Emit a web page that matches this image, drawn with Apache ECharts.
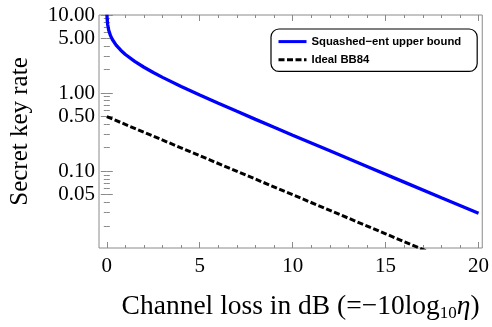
<!DOCTYPE html>
<html>
<head>
<meta charset="utf-8">
<script src="https://cdn.jsdelivr.net/npm/echarts@6/dist/echarts.min.js"></script>
<style>
  html, body { margin: 0; padding: 0; background: #fff; }
  #chart { width: 492px; height: 327px; }
</style>
</head>
<body>
<div id="chart"></div>
<script>
// loss in dB and the squashed-entanglement bound
const lossDb = [0.008, 0.02, 0.05, 0.1, 0.2, 0.3, 0.5, 0.75, 1, 1.5, 2, 2.5, 3, 4, 5, 6, 7, 8, 9, 10, 12, 14, 16, 18, 20];
const squashedRate = [10.08, 8.76, 7.44, 6.44, 5.44, 4.86, 4.12, 3.54, 3.125, 2.548, 2.144, 1.836, 1.59, 1.216, 0.945, 0.741, 0.584, 0.4612, 0.3652, 0.2895, 0.1823, 0.1149, 0.0725, 0.0457, 0.0289];

// ideal BB84 (straight line on the log plot)
const bbLossDb = [0, 5, 10, 15, 17.2];
const bbRate = [0.5, 0.158, 0.05, 0.0158, 0.0095];

const xMajor = [0, 5, 10, 15, 20];
const xMinor = [1, 2, 3, 4, 6, 7, 8, 9, 11, 12, 13, 14, 16, 17, 18, 19];
const yMajor = [0.05, 0.1, 0.5, 1, 5, 10];
const yMinor = [0.02, 0.03, 0.04, 0.06, 0.07, 0.08, 0.09, 0.2, 0.3, 0.4, 0.6, 0.7, 0.8, 0.9, 2, 3, 4, 6, 7, 8, 9];

const frameGrey = '#8a8a8a';
const serif = 'Liberation Serif';

const toPairs = (xs, ys) => xs.map((x, i) => [x, ys[i]]);

const xAx = (pos, ticks, len, labels) => ({
  type: 'value', position: pos, min: -0.42, max: 20.2,
  axisLine: { show: false },
  splitLine: { show: false },
  axisTick: { show: true, inside: true, length: len, customValues: ticks, lineStyle: { color: frameGrey } },
  axisLabel: labels
    ? { show: true, customValues: ticks, margin: 8, fontFamily: serif, fontSize: 21, color: '#000' }
    : { show: false }
});

const yAx = (pos, ticks, len, labels) => ({
  type: 'log', logBase: 10, position: pos, min: 0.0104, max: 10,
  axisLine: { show: false },
  splitLine: { show: false },
  axisTick: { show: true, inside: true, length: len, customValues: ticks, lineStyle: { color: frameGrey } },
  axisLabel: labels
    ? { show: true, customValues: ticks, margin: 4, fontFamily: serif, fontSize: 21, color: '#000',
        formatter: (v) => Number(v).toFixed(2) }
    : { show: false }
});

const chart = echarts.init(document.getElementById('chart'), null, { renderer: 'canvas' });

const xBottom = xAx('bottom', xMajor, 6, true);
xBottom.name = 'Channel loss in dB (=\u221210log{sub|10}{it|\u03b7})';
xBottom.nameLocation = 'middle';
xBottom.nameGap = 44;
xBottom.nameTextStyle = {
  fontFamily: serif, fontSize: 27.5, color: '#000',
  padding: [0, 0, 0, 20],
  rich: {
    sub: { fontFamily: serif, fontSize: 17, color: '#000', verticalAlign: 'bottom', padding: [13, 0, 0, 0] },
    it: { fontFamily: serif, fontSize: 27.5, fontStyle: 'italic', color: '#000' }
  }
};

const yLeft = yAx('left', yMajor, 6, true);
yLeft.name = 'Secret key rate';
yLeft.nameLocation = 'middle';
yLeft.nameGap = 66;
yLeft.nameTextStyle = { fontFamily: serif, fontSize: 25, color: '#000' };

const option = {
  animation: false,
  backgroundColor: '#fff',
  grid: { left: 95, right: 5, top: 15, bottom: 69, show: true, borderColor: frameGrey, borderWidth: 1, backgroundColor: 'transparent' },
  legend: {
    orient: 'vertical', left: 271, top: 29,
    padding: [7, 16, 6, 6],
    itemGap: 7, itemWidth: 28, itemHeight: 14,
    borderColor: '#000', borderWidth: 1.2, borderRadius: 8,
    itemStyle: { opacity: 0 },
    lineStyle: { width: 3 },
    textStyle: { fontFamily: 'Liberation Sans', fontWeight: 'bold', fontSize: 11.3, color: '#000' },
    data: ['Squashed\u2212ent upper bound', 'Ideal BB84']
  },
  xAxis: [
    xBottom,
    xAx('bottom', xMinor, 3, false),
    xAx('top', xMajor, 6, false),
    xAx('top', xMinor, 3, false)
  ],
  yAxis: [
    yLeft,
    yAx('left', yMinor, 3, false),
    yAx('right', yMajor, 6, false),
    yAx('right', yMinor, 3, false)
  ],
  series: [
    {
      name: 'Squashed\u2212ent upper bound', type: 'line',
      showSymbol: false, symbol: 'none', clip: true,
      lineStyle: { color: '#0000ff', width: 3.3 }, itemStyle: { color: '#0000ff' },
      data: toPairs(lossDb, squashedRate)
    },
    {
      name: 'Ideal BB84', type: 'line',
      showSymbol: false, symbol: 'none', clip: true,
      lineStyle: { color: '#000', width: 3, type: [6, 2.5] }, itemStyle: { color: '#000' },
      data: toPairs(bbLossDb, bbRate)
    }
  ]
};

chart.setOption(option);
</script>
</body>
</html>
